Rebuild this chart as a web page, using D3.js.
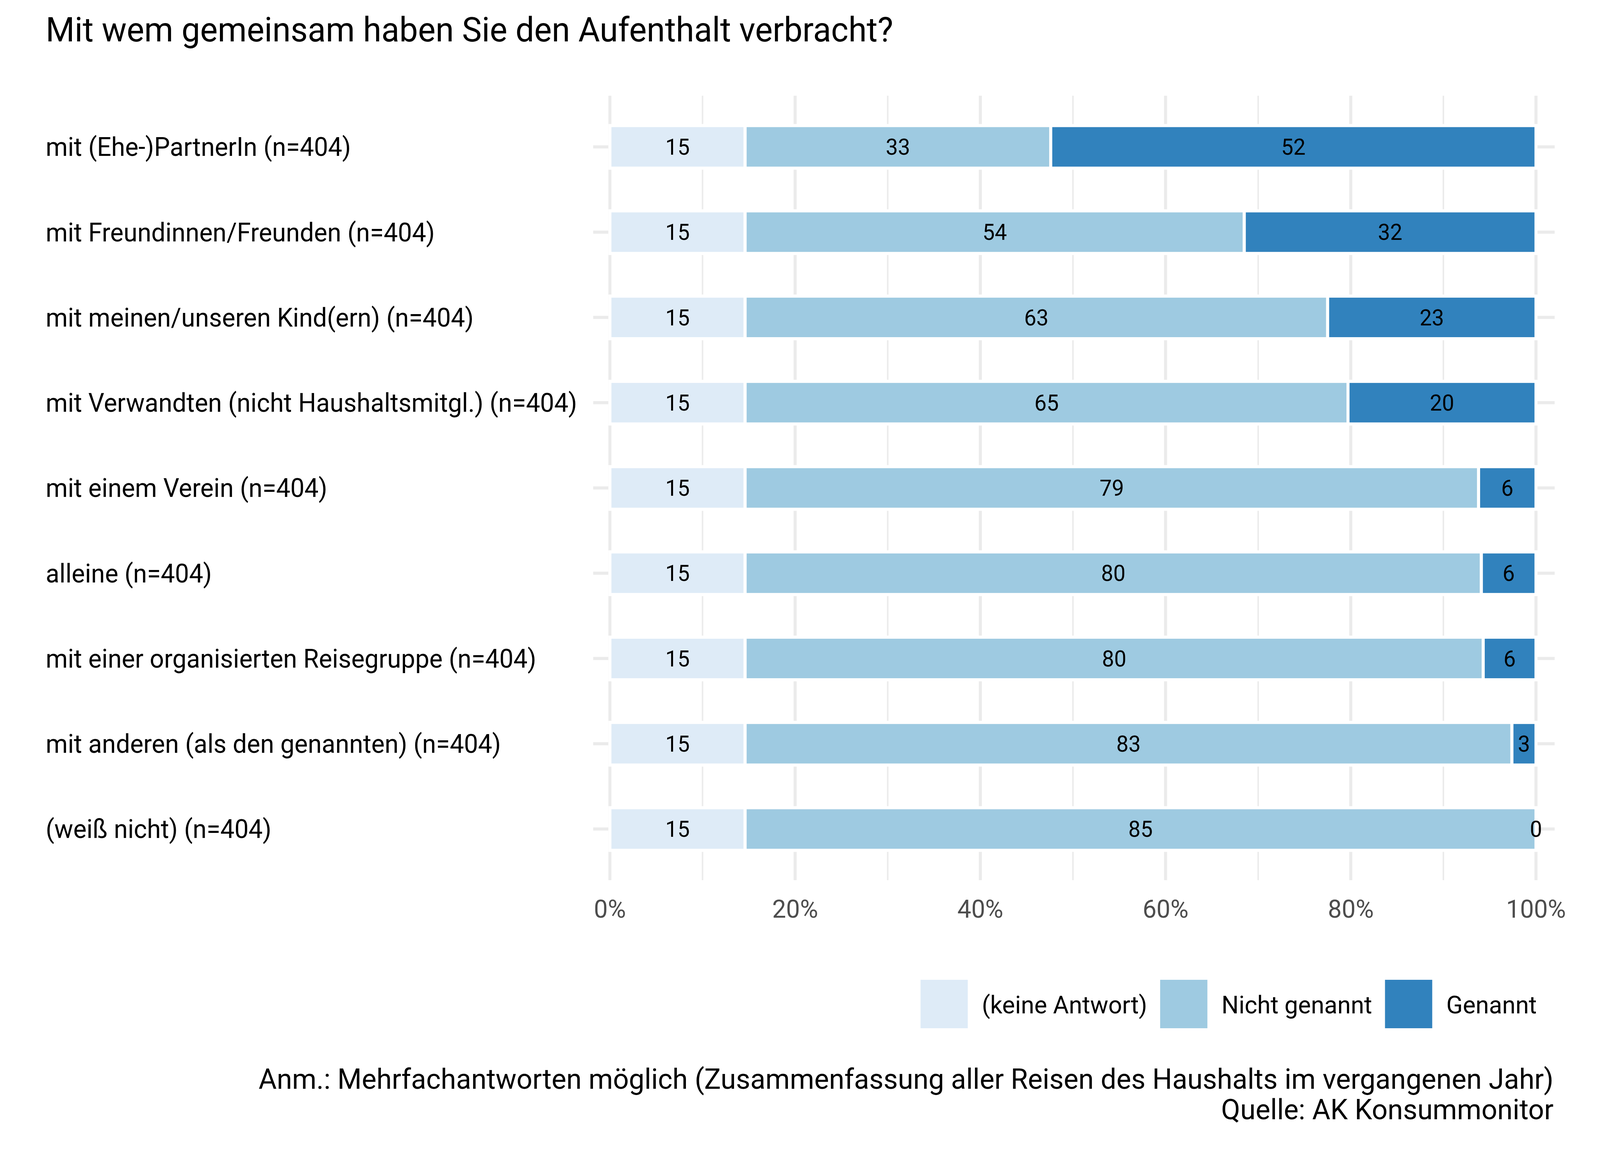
<!DOCTYPE html>
<html>
<head>
<meta charset="utf-8">
<script src="https://cdn.jsdelivr.net/npm/d3@7"></script>
<style>
  html, body { margin: 0; padding: 0; background: #fff; overflow: hidden; }
  #chart svg { display: block; width: 100vw; height: 100vh; }
  text { font-family: Roboto, "Noto Sans", sans-serif; }
</style>
</head>
<body>
<div id="chart"></div>
<script>
// data (percent of respondents)
const categories = [
  "mit (Ehe-)PartnerIn (n=404)",
  "mit Freundinnen/Freunden (n=404)",
  "mit meinen/unseren Kind(ern) (n=404)",
  "mit Verwandten (nicht Haushaltsmitgl.) (n=404)",
  "mit einem Verein (n=404)",
  "alleine (n=404)",
  "mit einer organisierten Reisegruppe (n=404)",
  "mit anderen (als den genannten) (n=404)",
  "(weiß nicht) (n=404)"
];
const keineAntwort = [14.6, 14.6, 14.6, 14.6, 14.6, 14.6, 14.6, 14.6, 14.6];
const nichtGenannt = [33.0, 53.9, 62.9, 65.1, 79.2, 79.5, 79.7, 82.8, 85.4];
const genannt      = [52.4, 31.5, 22.5, 20.3, 6.2, 5.9, 5.7, 2.6, 0];

const seriesNames = ["(keine Antwort)", "Nicht genannt", "Genannt"];
const seriesColors = ["#DEEBF7", "#9ECAE1", "#3182BD"];
const xTicks = [0, 20, 40, 60, 80, 100];
const xTickLabels = ["0%", "20%", "40%", "60%", "80%", "100%"];

const titleText = "Mit wem gemeinsam haben Sie den Aufenthalt verbracht?";
const captionLines = [
  "Anm.: Mehrfachantworten möglich (Zusammenfassung aller Reisen des Haushalts im vergangenen Jahr)",
  "Quelle: AK Konsummonitor"
];

const width = 4200, height = 3000;
const panel = { left: 1557, right: 4081, top: 245, bottom: 2253 };

// viewBox stretched over the window so the drawing fills it exactly
const svg = d3.select("#chart").append("svg")
  .attr("viewBox", `0 0 ${width} ${height}`)
  .attr("preserveAspectRatio", "none");

svg.append("rect").attr("width", width).attr("height", height).attr("fill", "#fff");

const x = d3.scaleLinear().domain([0, 100]).range([1601, 4032]);
const y = d3.scalePoint().domain(categories).range([panel.top, panel.bottom]).padding(0.6);
const barH = y.step() * 0.5;

// stack the three series per category
const rows = categories.map((c, i) => ({
  cat: c,
  vals: [keineAntwort[i], nichtGenannt[i], genannt[i]]
}));
const segments = rows.flatMap(r => {
  let acc = 0;
  return r.vals.map((v, k) => {
    const s = { cat: r.cat, k, x0: acc, x1: acc + v, v };
    acc += v;
    return s;
  });
});

// grid
const grid = svg.append("g");
grid.selectAll("line.v")
  .data(d3.range(0, 101, 10))
  .join("line")
    .attr("x1", d => x(d)).attr("x2", d => x(d))
    .attr("y1", panel.top).attr("y2", panel.bottom)
    .attr("stroke", "#EBEBEB")
    .attr("stroke-width", d => d % 20 === 0 ? 8 : 4);
grid.selectAll("line.h")
  .data(categories)
  .join("line")
    .attr("x1", panel.left).attr("x2", panel.right)
    .attr("y1", d => y(d)).attr("y2", d => y(d))
    .attr("stroke", "#EBEBEB")
    .attr("stroke-width", 8);

// bars
svg.append("g")
  .selectAll("rect")
  .data(segments)
  .join("rect")
    .attr("x", d => x(d.x0))
    .attr("width", d => x(d.x1) - x(d.x0))
    .attr("y", d => y(d.cat) - barH / 2)
    .attr("height", barH)
    .attr("fill", d => seriesColors[d.k])
    .attr("stroke", "#fff")
    .attr("stroke-width", 8);

// value labels
svg.append("g")
  .selectAll("text")
  .data(segments)
  .join("text")
    .attr("x", d => x((d.x0 + d.x1) / 2))
    .attr("y", d => y(d.cat))
    .attr("dy", "0.355em")
    .attr("text-anchor", "middle")
    .style("font-size", "57px")
    .attr("fill", "#000")
    .text(d => Math.round(d.v));

// category labels
svg.append("g")
  .selectAll("text")
  .data(categories)
  .join("text")
    .attr("x", 120)
    .attr("y", d => y(d))
    .attr("dy", "0.355em")
    .style("font-size", "66px")
    .attr("fill", "#000")
    .text(d => d);

// x tick labels
svg.append("g")
  .selectAll("text")
  .data(xTicks)
  .join("text")
    .attr("x", d => x(d))
    .attr("y", 2349)
    .attr("text-anchor", "middle")
    .style("font-size", "65px")
    .attr("fill", "#4D4D4D")
    .text((d, i) => xTickLabels[i]);

// title
svg.append("text")
  .attr("x", 120)
  .attr("y", 106)
  .style("font-size", "87px")
  .attr("fill", "#000")
  .text(titleText);

// legend, laid out left to right then pushed to the right edge
const legend = svg.append("g");
const keySize = 124;
let lx = 0;
seriesNames.forEach((name, i) => {
  legend.append("rect")
    .attr("x", lx).attr("y", 2508)
    .attr("width", keySize).attr("height", keySize)
    .attr("fill", seriesColors[i]);
  const t = legend.append("text")
    .attr("x", lx + keySize + 37)
    .attr("y", 2594)
    .style("font-size", "63.5px")
    .attr("fill", "#000")
    .text(name);
  lx += keySize + 37 + t.node().getComputedTextLength() + 34;
});
lx -= 34;
legend.attr("transform", `translate(${4034 - lx},0)`);

// caption
svg.append("g")
  .selectAll("text")
  .data(captionLines)
  .join("text")
    .attr("x", 4078)
    .attr("y", (d, i) => 2787 + i * 78)
    .attr("text-anchor", "end")
    .style("font-size", "73px")
    .attr("fill", "#000")
    .text(d => d);
</script>
</body>
</html>
